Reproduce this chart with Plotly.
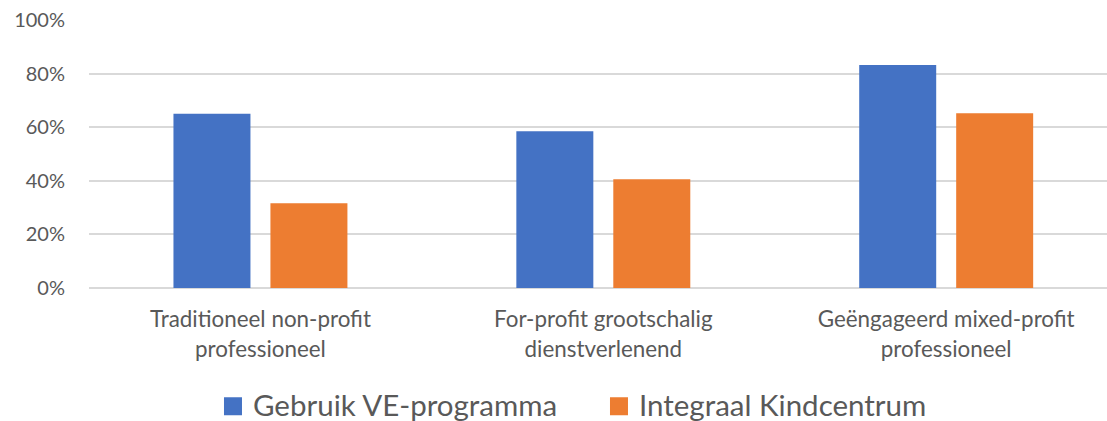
import plotly.graph_objects as go

categories = ["Traditioneel non-profit<br>professioneel",
              "For-profit grootschalig<br>dienstverlenend",
              "Geëngageerd mixed-profit<br>professioneel"]
series_names = ["Gebruik VE-programma", "Integraal Kindcentrum"]
ve_values = [0.65, 0.585, 0.832]
ikc_values = [0.316, 0.406, 0.652]
y_ticks = [0, 0.2, 0.4, 0.6, 0.8, 1.0]
y_tick_labels = ["0%", "20%", "40%", "60%", "80%", "100%"]

font_family = "Lato, sans-serif"

fig = go.Figure()
fig.add_trace(go.Bar(x=categories, y=ve_values, name=series_names[0],
                     marker=dict(color="#4472C4", line=dict(width=0))))
fig.add_trace(go.Bar(x=categories, y=ikc_values, name=series_names[1],
                     marker=dict(color="#ED7D31", line=dict(width=0))))

fig.update_layout(
    width=1107, height=421,
    margin=dict(l=89, r=0, t=20, b=133, autoexpand=False),
    paper_bgcolor="white", plot_bgcolor="white",
    barmode="group", bargap=0.4344, bargroupgap=0.206,
    font=dict(family=font_family, color="#595959"),
    showlegend=True,
    legend=dict(orientation="h", xref="container", yref="container",
                x=0.1924, xanchor="left", y=0.039, yanchor="middle",
                entrywidth=341, entrywidthmode="pixels",
                font=dict(size=29.5, color="#595959"),
                traceorder="normal"),
)
# The reference chart is cropped on the right: the category axis continues past the edge
fig.update_xaxes(range=[-0.5, 2.469], showgrid=False, showline=False, ticks="",
                 automargin=False, ticklabelstandoff=16,
                 tickfont=dict(size=22.4, color="#595959"))
fig.update_yaxes(range=[0, 1.0], tickvals=y_ticks, ticktext=y_tick_labels,
                 showgrid=True, gridcolor="#D9D9D9", gridwidth=1.5,
                 zeroline=True, zerolinecolor="#D9D9D9", zerolinewidth=1.5,
                 showline=False, ticks="", automargin=False,
                 ticklabelstandoff=23,
                 tickfont=dict(size=20, color="#595959"))

js = """
document.body.style.margin='0';
document.body.style.overflow='hidden';
document.querySelectorAll('.legendpoints path').forEach(function(e){e.setAttribute('d','M9,11H-9V-7H9Z');});
"""
fig.write_html("out.html", post_script=js, config={"displayModeBar": False})
